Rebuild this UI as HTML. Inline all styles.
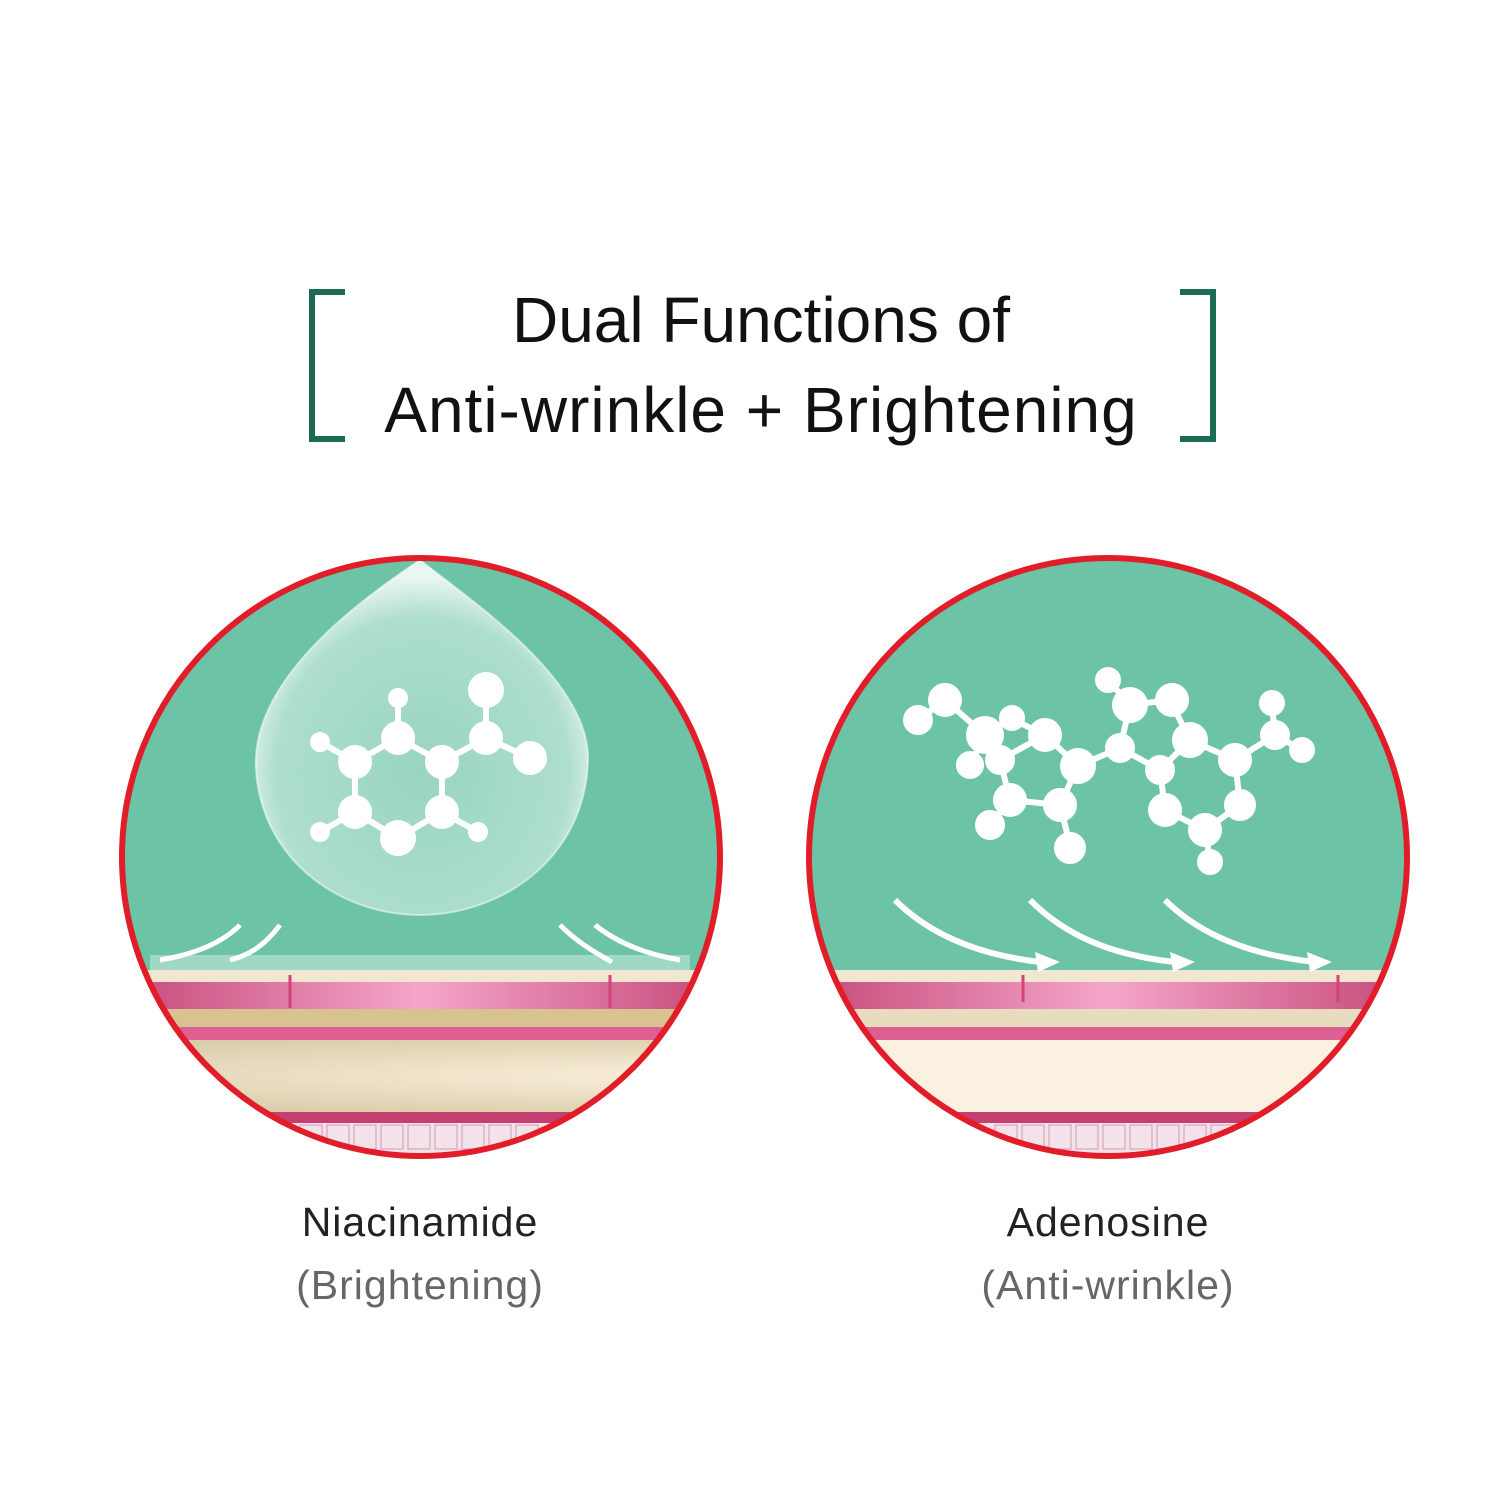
<!DOCTYPE html><html><head><style>body{margin:0;background:#fff}svg{display:block}</style></head><body>
<svg width="1511" height="1511" viewBox="0 0 1511 1511" xmlns="http://www.w3.org/2000/svg">
<defs>
<clipPath id="c1"><circle cx="421" cy="857" r="299"/></clipPath>
<clipPath id="c2"><circle cx="1108" cy="857" r="299"/></clipPath>
<radialGradient id="drop" cx="50%" cy="60%" r="55%"><stop offset="0" stop-color="#fff" stop-opacity="0.3"/><stop offset="0.8" stop-color="#fff" stop-opacity="0.45"/><stop offset="1" stop-color="#fff" stop-opacity="0.85"/></radialGradient>
<linearGradient id="pk1" gradientUnits="userSpaceOnUse" x1="122" x2="720" y1="0" y2="0"><stop offset="0" stop-color="#c54a7a"/><stop offset="0.5" stop-color="#f5a6c8"/><stop offset="1" stop-color="#c54a7a"/></linearGradient>
<linearGradient id="pk2" gradientUnits="userSpaceOnUse" x1="809" x2="1407" y1="0" y2="0"><stop offset="0" stop-color="#c54a7a"/><stop offset="0.5" stop-color="#f5a6c8"/><stop offset="1" stop-color="#c54a7a"/></linearGradient>
<radialGradient id="cr" cx="50%" cy="50%" r="60%"><stop offset="0" stop-color="#fbf1dc"/><stop offset="1" stop-color="#d9ccaa"/></radialGradient>
</defs>
<g fill="none" stroke="#1d6b55" stroke-width="6">
<path d="M345 292H312V439H345"/><path d="M1180 292H1213V439H1180"/>
</g>
<g font-family="Liberation Sans, sans-serif" text-anchor="middle" fill="#111">
<text x="761" y="342" font-size="64" letter-spacing="0">Dual Functions of</text>
<text x="761" y="432" font-size="64" letter-spacing="1">Anti-wrinkle + Brightening</text>
</g>
<!-- left circle -->
<g clip-path="url(#c1)">
<rect x="100" y="540" width="640" height="640" fill="#6cc3a6"/>
<rect x="0" y="970" width="1511" height="12" fill="#f1e6cf"/>
<rect x="0" y="982" width="1511" height="27" fill="url(#pk1)"/>
<rect x="0" y="1009" width="1511" height="18" fill="#d9c291"/>
<rect x="0" y="1027" width="1511" height="13" fill="#de5f91"/>
<rect x="0" y="1040" width="1511" height="72" fill="url(#cr)"/>
<rect x="0" y="1112" width="1511" height="11" fill="#c43f6f"/>
<rect x="0" y="1123" width="1511" height="40" fill="#f3e2ea"/>
<g fill="#f3e2ea" stroke="#d69ab0"><rect x="300" y="1125" width="22" height="24"/><rect x="327" y="1125" width="22" height="24"/><rect x="354" y="1125" width="22" height="24"/><rect x="381" y="1125" width="22" height="24"/><rect x="408" y="1125" width="22" height="24"/><rect x="435" y="1125" width="22" height="24"/><rect x="462" y="1125" width="22" height="24"/><rect x="489" y="1125" width="22" height="24"/><rect x="516" y="1125" width="22" height="24"/></g>
<rect x="150" y="955" width="540" height="15" fill="#fff" opacity="0.35"/>
<path d="M290 975V1008M610 975V1008" stroke="#d4427a" stroke-width="3"/>
<path d="M420 560C360 600 250 680 256 770C262 860 340 915 420 915C500 915 585 860 588 760C590 680 470 600 420 560Z" fill="url(#drop)" stroke="#fff" stroke-opacity="0.5" stroke-width="2"/>
<g stroke="#fff" stroke-width="6" fill="#fff">
<path d="M320 742L355 762L398 738L442 762L486 738L530 758M486 738L486 692M398 738L398 698M355 762L355 812L398 838L442 812L442 762M355 812L320 832M442 812L478 832" fill="none"/>
<circle cx="320" cy="742" r="7"/><circle cx="355" cy="762" r="14"/><circle cx="398" cy="738" r="14"/><circle cx="398" cy="698" r="7"/><circle cx="442" cy="762" r="14"/><circle cx="486" cy="738" r="14"/><circle cx="486" cy="690" r="15"/><circle cx="530" cy="758" r="14"/><circle cx="355" cy="812" r="14"/><circle cx="398" cy="838" r="15"/><circle cx="442" cy="812" r="14"/><circle cx="320" cy="832" r="7"/><circle cx="478" cy="832" r="7"/>
</g>
<g stroke="#fff" stroke-width="5" fill="none"><path d="M240 925C220 945 190 955 160 960M280 925C265 945 250 955 230 960M560 925C580 945 600 955 612 962M595 925C620 945 650 955 680 960"/></g>
</g>
<circle cx="421" cy="857" r="299" fill="none" stroke="#e11d2a" stroke-width="6"/>
<!-- right circle -->
<g clip-path="url(#c2)">
<rect x="790" y="540" width="640" height="640" fill="#6cc3a6"/>
<rect x="0" y="970" width="1511" height="12" fill="#f1e6cf"/>
<rect x="0" y="982" width="1511" height="27" fill="url(#pk2)"/>
<rect x="0" y="1009" width="1511" height="18" fill="#e8dcc0"/>
<rect x="0" y="1027" width="1511" height="13" fill="#de5f91"/>
<rect x="0" y="1040" width="1511" height="72" fill="#fbf1e0"/>
<rect x="0" y="1112" width="1511" height="11" fill="#c43f6f"/>
<rect x="0" y="1123" width="1511" height="40" fill="#f3e2ea"/>
<g fill="#f3e2ea" stroke="#d69ab0"><rect x="995" y="1125" width="22" height="24"/><rect x="1022" y="1125" width="22" height="24"/><rect x="1049" y="1125" width="22" height="24"/><rect x="1076" y="1125" width="22" height="24"/><rect x="1103" y="1125" width="22" height="24"/><rect x="1130" y="1125" width="22" height="24"/><rect x="1157" y="1125" width="22" height="24"/><rect x="1184" y="1125" width="22" height="24"/><rect x="1211" y="1125" width="22" height="24"/></g>
<path d="M1023 975V1002M1338 975V1002" stroke="#d4427a" stroke-width="3"/>
<g stroke="#fff" stroke-width="6" fill="#fff">
<path d="M918 720L945 700L985 735L1010 718L1045 735L1078 766L1120 748L1130 705L1170 700L1190 740L1160 770L1120 748M1190 740L1235 760L1275 735L1302 750M1275 735L1272 705M1235 760L1240 805L1205 830L1165 810L1160 770M1205 830L1210 860M985 735L970 765M985 735L1000 760L1045 735M1000 760L1010 800L990 825M1010 800L1060 805L1078 766M1060 805L1070 845M1108 680L1130 705" fill="none"/>
<circle cx="918" cy="720" r="12"/><circle cx="945" cy="700" r="14"/><circle cx="985" cy="735" r="16"/><circle cx="1012" cy="718" r="10"/><circle cx="1045" cy="735" r="14"/><circle cx="970" cy="765" r="11"/><circle cx="1000" cy="760" r="12"/><circle cx="1010" cy="800" r="14"/><circle cx="990" cy="825" r="12"/><circle cx="1060" cy="805" r="14"/><circle cx="1070" cy="848" r="13"/><circle cx="1078" cy="766" r="15"/><circle cx="1120" cy="748" r="12"/><circle cx="1130" cy="705" r="15"/><circle cx="1108" cy="680" r="10"/><circle cx="1172" cy="700" r="14"/><circle cx="1190" cy="740" r="15"/><circle cx="1160" cy="770" r="12"/><circle cx="1235" cy="760" r="14"/><circle cx="1275" cy="735" r="12"/><circle cx="1272" cy="703" r="10"/><circle cx="1302" cy="750" r="10"/><circle cx="1240" cy="805" r="13"/><circle cx="1205" cy="830" r="14"/><circle cx="1165" cy="810" r="14"/><circle cx="1210" cy="862" r="10"/>
</g>
<g stroke="#fff" stroke-width="6" fill="none"><path d="M895 900C930 935 980 955 1040 962M1030 900C1065 935 1110 955 1175 962M1165 900C1200 935 1250 955 1315 962"/></g>
<g fill="#fff"><path d="M1060 962L1035 952L1038 972Z"/><path d="M1195 962L1170 952L1173 972Z"/><path d="M1332 962L1307 952L1310 972Z"/></g>
</g>
<circle cx="1108" cy="857" r="299" fill="none" stroke="#e11d2a" stroke-width="6"/>
<g font-family="Liberation Sans, sans-serif" text-anchor="middle" font-size="41" letter-spacing="1">
<text x="420" y="1236" fill="#222">Niacinamide</text>
<text x="420" y="1299" fill="#666">(Brightening)</text>
<text x="1108" y="1236" fill="#222">Adenosine</text>
<text x="1108" y="1299" fill="#666">(Anti-wrinkle)</text>
</g>
</svg>
</body></html>
